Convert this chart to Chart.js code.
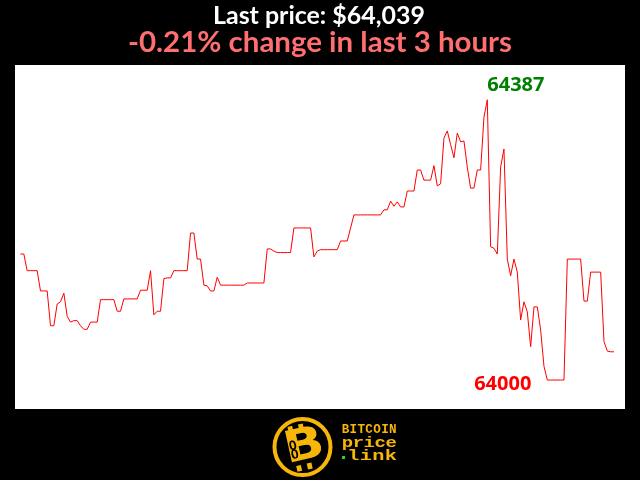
<!DOCTYPE html>
<html>
<head>
<meta charset="utf-8">
<script src="https://cdn.jsdelivr.net/npm/chart.js@4"></script>
<style>
  html, body { margin: 0; padding: 0; background: #000; }
  canvas { display: block; }
</style>
</head>
<body>
<canvas id="priceChart" width="640" height="480"></canvas>
<script>
// one price per minute over the last 3 hours
const prices = [
  64174, 64174, 64151, 64151, 64151, 64151, 64123, 64123, 64123, 64075,
  64075, 64105, 64108, 64120, 64088, 64080, 64082, 64082, 64075, 64070,
  64070, 64080, 64080, 64080, 64111, 64111, 64111, 64111, 64111, 64095,
  64095, 64112, 64112, 64112, 64112, 64112, 64124, 64124, 64124, 64151,
  64090, 64095, 64095, 64140, 64141, 64141, 64151, 64151, 64151, 64151,
  64151, 64203, 64203, 64167, 64167, 64131, 64130, 64123, 64123, 64142,
  64131, 64131, 64131, 64131, 64131, 64131, 64131, 64131, 64134, 64134,
  64134, 64134, 64134, 64134, 64181, 64181, 64178, 64176, 64176, 64176,
  64176, 64176, 64210, 64210, 64210, 64210, 64210, 64210, 64170, 64178,
  64180, 64180, 64180, 64180, 64180, 64180, 64192, 64192, 64192, 64210,
  64228, 64228, 64228, 64228, 64228, 64228, 64228, 64228, 64228, 64235,
  64235, 64247, 64240, 64246, 64239, 64239, 64261, 64261, 64261, 64290,
  64290, 64276, 64276, 64276, 64296, 64268, 64271, 64334, 64344, 64325,
  64307, 64341, 64329, 64330, 64294, 64265, 64265, 64290, 64290, 64363,
  64387, 64184, 64182, 64174, 64294, 64319, 64167, 64144, 64167, 64149,
  64083, 64108, 64094, 64046, 64101, 64101, 64069, 64019, 64000, 64000,
  64000, 64000, 64000, 64000, 64167, 64167, 64167, 64167, 64167, 64109,
  64109, 64149, 64149, 64149, 64149, 64053, 64040, 64039, 64039
];
const minutes = prices.map((p, i) => i);

const titleText = "Last price: $64,039";
const changeText = "-0.21% change in last 3 hours";
const logoWords = ["BITCOIN", "price", "link"];

const GOLD = "#f7b60a";

// draws text scaled so it fills the given width
function fitText(ctx, text, cx, baseline, width, family, color) {
  let size = 24;
  ctx.font = `bold ${size}px ${family}`;
  size = size * width / ctx.measureText(text).width;
  ctx.font = `bold ${size}px ${family}`;
  ctx.fillStyle = color;
  ctx.textAlign = "center";
  ctx.textBaseline = "alphabetic";
  ctx.fillText(text, cx, baseline);
}

// stretched monospace word, each glyph centred in its own cell
function wideWord(ctx, text, left, baseline, step, stretch) {
  ctx.save();
  ctx.translate(left, baseline);
  ctx.scale(stretch, 1);
  for (let i = 0; i < text.length; i++) {
    ctx.fillText(text[i], (step * i + step / 2) / stretch, 0);
  }
  ctx.restore();
}

function drawLogo(ctx) {
  ctx.save();
  ctx.strokeStyle = GOLD;
  ctx.lineWidth = 4;
  ctx.beginPath();
  ctx.arc(302.5, 447, 28, 0, Math.PI * 2);
  ctx.stroke();

  ctx.translate(303, 447);
  ctx.rotate(-0.22);
  ctx.scale(1.2, 1);
  ctx.fillStyle = GOLD;
  ctx.font = "bold 44px 'DejaVu Sans'";
  ctx.textAlign = "center";
  ctx.textBaseline = "middle";
  ctx.fillText("B", 1, 1);
  ctx.fillRect(-9, -23, 4, 6);
  ctx.fillRect(0, -23, 4, 6);
  ctx.fillRect(-9, 17, 4, 6);
  ctx.fillRect(0, 17, 4, 6);
  // little chain link on the stem
  ctx.strokeStyle = "#000";
  ctx.lineWidth = 1.5;
  ctx.beginPath();
  ctx.ellipse(-8, -4, 2, 4, 0, 0, Math.PI * 2);
  ctx.moveTo(-6, 5);
  ctx.ellipse(-8, 5, 2, 4, 0, 0, Math.PI * 2);
  ctx.stroke();
  ctx.restore();

  ctx.save();
  ctx.fillStyle = GOLD;
  ctx.textAlign = "center";
  ctx.textBaseline = "alphabetic";
  ctx.font = "bold 12px 'Liberation Mono'";
  wideWord(ctx, logoWords[0], 341.5, 432.5, 7.9, 1.05);
  ctx.font = "bold 14px 'Liberation Mono'";
  wideWord(ctx, logoWords[1], 342, 446.5, 10.9, 1.35);
  wideWord(ctx, logoWords[2], 347, 460, 12.5, 1.45);
  ctx.fillStyle = "#33cc33";
  ctx.fillRect(342, 456, 3, 3);
  ctx.restore();
}

const backdrop = {
  id: "backdrop",
  beforeDraw(chart) {
    const { ctx, chartArea: a } = chart;
    ctx.save();
    ctx.fillStyle = "#000";
    ctx.fillRect(0, 0, chart.width, chart.height);
    ctx.fillStyle = "#fff";
    ctx.fillRect(a.left, a.top, a.right - a.left, a.bottom - a.top);
    ctx.restore();
  },
  afterDraw(chart) {
    const ctx = chart.ctx;
    ctx.save();
    fitText(ctx, titleText, 319, 24, 212, "Lato", "#ffffff");
    fitText(ctx, changeText, 320, 51.5, 384, "Lato", "#ff6f6f");
    ctx.restore();
    drawLogo(ctx);
  }
};

// high / low annotations next to the extreme points
const extremes = {
  id: "extremes",
  afterDatasetsDraw(chart) {
    const ctx = chart.ctx;
    const pts = chart.getDatasetMeta(0).data;
    const hi = prices.indexOf(Math.max(...prices));
    const lo = prices.indexOf(Math.min(...prices));
    ctx.save();
    ctx.font = "bold 20px 'Open Sans'";
    ctx.fillStyle = "#008000";
    ctx.textAlign = "left";
    ctx.textBaseline = "alphabetic";
    ctx.fillText(String(prices[hi]), pts[hi].x, pts[hi].y - 9);
    ctx.fillStyle = "#ff0000";
    ctx.textAlign = "right";
    ctx.fillText(String(prices[lo]), pts[lo].x - 16, pts[lo].y + 10);
    ctx.restore();
  }
};

new Chart(document.getElementById("priceChart"), {
  type: "line",
  data: {
    labels: minutes,
    datasets: [{
      data: prices,
      borderColor: "#ff0000",
      borderWidth: 1,
      pointRadius: 0,
      tension: 0,
      fill: false
    }]
  },
  options: {
    responsive: false,
    animation: false,
    layout: { padding: { top: 65, left: 15, right: 15, bottom: 71 } },
    plugins: {
      legend: { display: false },
      tooltip: { enabled: false }
    },
    scales: {
      x: { type: "linear", min: -1.65, max: 181.3, display: false },
      y: { min: 63960, max: 64435, display: false }
    }
  },
  plugins: [backdrop, extremes]
});
</script>
</body>
</html>
